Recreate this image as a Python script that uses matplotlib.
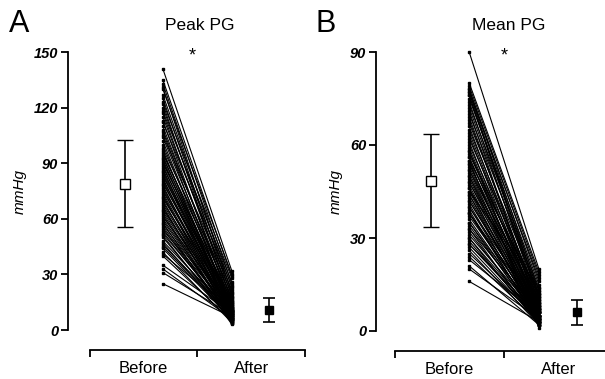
import matplotlib.pyplot as plt

plt.rcParams['font.family'] = ['Liberation Sans', 'DejaVu Sans']

# individual patients, Peak PG (mmHg)
peak_before = [25, 31, 33, 35, 40, 41, 42, 44, 45, 46, 47, 48,
               50, 51, 52, 53, 54, 55, 56, 57, 58, 59, 60, 61, 62, 63, 64, 65, 66, 67, 68, 69,
               70, 71, 72, 73, 74, 75, 76, 77, 78, 79, 80, 81, 82, 83, 84, 85, 86, 87, 88, 89,
               90, 91, 92, 93, 94, 95, 96, 97, 98, 100, 102, 104, 105, 107, 108,
               110, 112, 113, 115, 117, 118, 120, 122, 123, 125, 127, 130, 131, 133, 135, 141]
peak_after = [7, 8, 6, 9, 5, 10, 4, 6, 7, 8,
              5, 9, 6, 4, 8, 7, 10, 5, 6, 9,
              3, 7, 8, 12, 5, 6, 9, 11, 7, 4,
              8, 10, 6, 13, 9, 5, 7, 12, 8, 10,
              6, 14, 9, 11, 7, 15, 8, 10, 12, 6,
              13, 9, 16, 11, 8, 14, 10, 18, 12, 9,
              20, 13, 11, 15, 22, 10, 17, 14, 24, 12,
              19, 16, 26, 21, 15, 28, 18, 23, 30, 20,
              25, 29, 32]

# individual patients, Mean PG (mmHg)
mean_before = [16, 20, 21, 23, 24, 25, 26, 27, 28, 28,
               29, 30, 30, 31, 32, 33, 33, 34, 35, 35,
               36, 37, 38, 38, 39, 40, 40, 41, 42, 42,
               43, 44, 44, 45, 46, 46, 47, 48, 48, 49,
               50, 50, 51, 52, 52, 53, 54, 54, 55, 56,
               56, 57, 58, 58, 59, 60, 61, 62, 63, 64,
               65, 66, 67, 68, 69, 70, 71, 72, 73, 74,
               75, 76, 76, 77, 77, 78, 78, 79, 80, 45,
               38, 55, 90]
mean_after = [3, 4, 2, 5, 3, 4, 2, 3, 5, 4,
              3, 2, 4, 5, 3, 6, 2, 4, 3, 5,
              4, 6, 3, 5, 2, 4, 7, 3, 5, 6,
              4, 3, 6, 5, 7, 2, 4, 8, 5, 6,
              3, 7, 5, 9, 4, 6, 8, 5, 1, 7,
              6, 10, 4, 8, 7, 9, 5, 11, 6, 8,
              10, 7, 12, 9, 8, 13, 6, 11, 14, 9,
              15, 10, 12, 17, 11, 16, 13, 18, 19, 14,
              7, 12, 20]

# group mean and SD shown as error bars
peak_mean = [79, 11]
peak_sd = [23.5, 6.5]
mpg_mean = [48.5, 6]
mpg_sd = [15, 4]

groups = ['Before', 'After']
W, H = 605, 379

fig = plt.figure(figsize=(W / 100, H / 100), dpi=100)


def panel(left_px, right_px, top_px, bot_px, xlim, before, after, mean, sd,
          ymax, yticks, title, letter, letter_x, title_x, star_x):
    ax = fig.add_axes([left_px / W, 1 - bot_px / H,
                       (right_px - left_px) / W, (bot_px - top_px) / H])
    ax.set_xlim(*xlim)
    ax.set_ylim(0, ymax)

    for b, a in zip(before, after):
        ax.plot([0.68, 1.32], [b, a], '-', color='black', lw=0.8,
                marker='s', ms=1.8, clip_on=False)

    ax.errorbar([0.33], [mean[0]], yerr=[sd[0]], fmt='s', mfc='white',
                mec='black', mew=1.0, ms=7, ecolor='black', elinewidth=1.2,
                capsize=5.5, capthick=1.2, clip_on=False)
    ax.errorbar([1.67], [mean[1]], yerr=[sd[1]], fmt='s', mfc='black',
                mec='black', ms=5.5, ecolor='black', elinewidth=1.2,
                capsize=4, capthick=1.2, clip_on=False)

    for s in ['top', 'right']:
        ax.spines[s].set_visible(False)
    ax.spines['left'].set_bounds(0, ymax)
    ax.spines['left'].set_linewidth(1.3)
    ax.spines['bottom'].set_position(('outward', 14.4))
    ax.spines['bottom'].set_bounds(0, 2)
    ax.spines['bottom'].set_linewidth(1.3)

    ax.set_yticks(yticks)
    ax.set_yticklabels([str(t) for t in yticks], fontsize=10.5,
                       fontweight='bold', fontstyle='italic')
    ax.tick_params(axis='y', direction='out', length=5, width=1.3, pad=2)

    ax.set_xticks([0, 1, 2])
    ax.set_xticklabels([])
    ax.set_xticks([0.5, 1.5], minor=True)
    ax.set_xticklabels(groups, minor=True, fontsize=12)
    ax.tick_params(axis='x', which='major', direction='out', length=5, width=1.3)
    ax.tick_params(axis='x', which='minor', length=0, pad=8)

    ax.set_ylabel('mmHg', fontsize=11, fontstyle='italic', labelpad=5)

    fig.text(title_x / W, 1 - 25 / H, title, ha='center', va='center', fontsize=12.5)
    fig.text(letter_x / W, 1 - 24 / H, letter, ha='left', va='center', fontsize=22)
    ax.text(star_x, ymax * 0.985, '*', ha='center', va='center', fontsize=13)
    return ax


panel(68, 305, 52, 330, (-0.2, 2.0), peak_before, peak_after, peak_mean, peak_sd,
      150, [0, 30, 60, 90, 120, 150], 'Peak PG', 'A', 9, 200, 0.95)
panel(376, 613, 52, 331, (-0.175, 2.0), mean_before, mean_after, mpg_mean, mpg_sd,
      90, [0, 30, 60, 90], 'Mean PG', 'B', 315, 509, 1.0)

fig.savefig('out.png', dpi=100)
